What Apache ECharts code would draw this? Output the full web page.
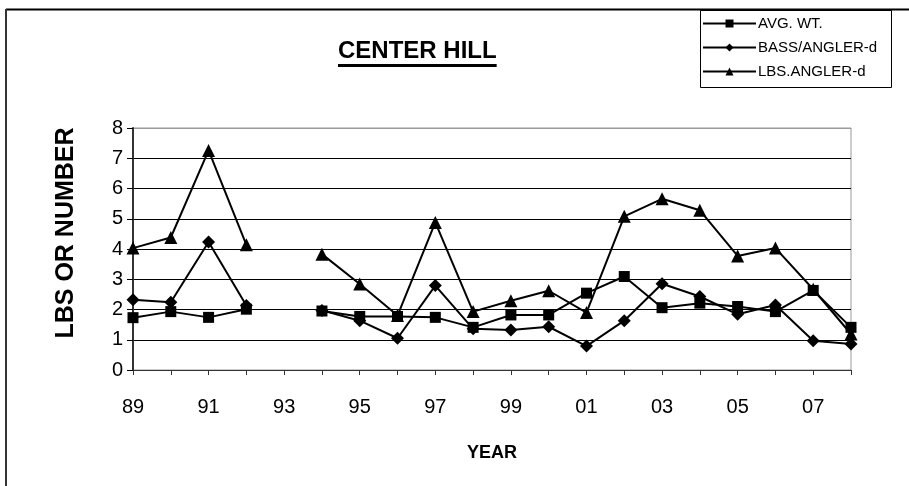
<!DOCTYPE html>
<html>
<head>
<meta charset="utf-8">
<script src="https://cdn.jsdelivr.net/npm/echarts@6/dist/echarts.min.js"></script>
<style>
  html, body { margin: 0; padding: 0; background: #fff; }
  #chart { width: 909px; height: 486px; }
</style>
</head>
<body>
<div id="chart"></div>
<script>
// Survey years (two-digit), 1989 through 2008
const years = ['89','90','91','92','93','94','95','96','97','98','99','00','01','02','03','04','05','06','07','08'];

// Average weight (lbs)
const avgWt = [1.73, 1.93, 1.74, 2.01, null, 1.95, 1.77, 1.77, 1.74, 1.41, 1.82, 1.82, 2.54, 3.09, 2.06, 2.21, 2.10, 1.93, 2.63, 1.41];
// Bass caught per angler-day
const bassPerAngler = [2.32, 2.24, 4.23, 2.13, null, 1.97, 1.63, 1.05, 2.79, 1.36, 1.32, 1.43, 0.79, 1.63, 2.85, 2.43, 1.84, 2.15, 0.97, 0.86];
// Pounds per angler-day
const lbsPerAngler = [4.03, 4.38, 7.26, 4.14, null, 3.83, 2.84, 1.80, 4.88, 1.93, 2.29, 2.62, 1.90, 5.08, 5.66, 5.28, 3.77, 4.03, 2.67, 1.19];

const seriesNames = ['AVG. WT.', 'BASS/ANGLER-d', 'LBS.ANGLER-d'];
const titleText = 'CENTER HILL';
const yTitle = 'LBS OR NUMBER';
const xTitle = 'YEAR';

const FONT = '"Liberation Sans", Arial, sans-serif';
const TITLE_FONT = 'bold 24px ' + FONT;

// measure title width for the underline
const mctx = document.createElement('canvas').getContext('2d');
mctx.font = TITLE_FONT;
const titleW = mctx.measureText(titleText).width;
const titleX = 338;

const chart = echarts.init(document.getElementById('chart'), null, { renderer: 'canvas' });

const lineStyle = { color: '#000', width: 2 };

chart.setOption({
  animation: false,
  backgroundColor: '#fff',
  textStyle: { fontFamily: FONT },
  grid: { left: 133, top: 128, right: 58, bottom: 116, show: true, borderColor: '#999', borderWidth: 1 },
  legend: {
    orient: 'vertical',
    left: 702,
    top: 16,
    itemWidth: 53,
    itemHeight: 10,
    itemGap: 9,
    padding: 0,
    textStyle: { fontSize: 15, color: '#000', fontFamily: FONT, padding: [0, 0, 0, -3] },
    data: seriesNames
  },
  xAxis: {
    type: 'category',
    data: years,
    boundaryGap: false,
    name: xTitle,
    nameLocation: 'middle',
    nameGap: 74,
    nameTextStyle: { fontSize: 18, fontWeight: 'bold', color: '#000' },
    axisLine: { lineStyle: { color: '#333', width: 1 } },
    axisTick: { show: true, inside: false, length: 5, interval: 0, lineStyle: { color: '#333' } },
    axisLabel: { interval: 1, fontSize: 20, color: '#000', margin: 27 },
    splitLine: { show: false }
  },
  yAxis: {
    type: 'value',
    min: 0,
    max: 8,
    interval: 1,
    axisLine: { show: true, lineStyle: { color: '#333', width: 2 } },
    axisTick: { show: true, inside: false, length: 6, lineStyle: { color: '#000' } },
    axisLabel: { fontSize: 20, color: '#000', margin: 10 },
    splitLine: { show: true, lineStyle: { color: ['#000','#000','#000','#000','#000','#000','#000','#000','#999'], width: 1 } }
  },
  series: [
    { name: seriesNames[0], type: 'line', data: avgWt, symbol: 'rect', symbolSize: 11, connectNulls: false,
      lineStyle: lineStyle, itemStyle: { color: '#000' } },
    { name: seriesNames[1], type: 'line', data: bassPerAngler, symbol: 'diamond', symbolSize: 13, connectNulls: false,
      lineStyle: lineStyle, itemStyle: { color: '#000' } },
    { name: seriesNames[2], type: 'line', data: lbsPerAngler, symbol: 'triangle', symbolSize: 13, connectNulls: false,
      lineStyle: lineStyle, itemStyle: { color: '#000' } }
  ],
  graphic: [
    // outer chart frame (top and left edges)
    { type: 'line', shape: { x1: 6, y1: 9.5, x2: 909, y2: 9.5 }, style: { stroke: '#000', lineWidth: 2 } },
    { type: 'line', shape: { x1: 6, y1: 9, x2: 6, y2: 486 }, style: { stroke: '#333', lineWidth: 2 } },
    // legend box
    { type: 'rect', shape: { x: 700.5, y: 10.5, width: 191, height: 77 }, style: { fill: 'none', stroke: '#000', lineWidth: 1 }, z: 10 },
    // underlined chart title
    { type: 'text', left: titleX, top: 39, style: { text: titleText, font: TITLE_FONT, fill: '#000' } },
    { type: 'rect', shape: { x: titleX, y: 64, width: titleW, height: 3 }, style: { fill: '#000' } },
    // vertical value-axis title
    { type: 'text', x: 66, y: 233, rotation: Math.PI / 2,
      style: { text: yTitle, font: 'bold 25px ' + FONT, fill: '#000', align: 'center', verticalAlign: 'middle' } }
  ]
});
</script>
</body>
</html>
